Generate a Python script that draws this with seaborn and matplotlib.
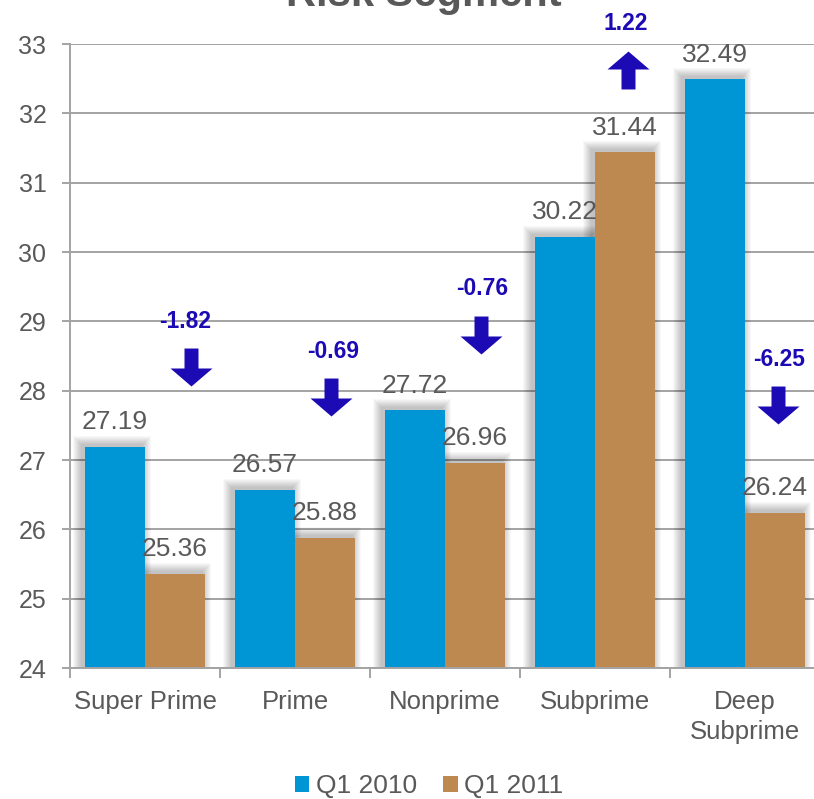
import numpy as np
import pandas as pd
import matplotlib
matplotlib.use("Agg")
import matplotlib.pyplot as plt
from matplotlib.path import Path
from matplotlib.patches import Rectangle, Patch
import seaborn as sns

# ---- data -------------------------------------------------------------
segments = ["Super Prime", "Prime", "Nonprime", "Subprime", "Deep\nSubprime"]
periods = ["Q1 2010", "Q1 2011"]
q1_2010 = [27.19, 26.57, 27.72, 30.22, 32.49]
q1_2011 = [25.36, 25.88, 26.96, 31.44, 26.24]
changes = [-1.82, -0.69, -0.76, 1.22, -6.25]
y_ticks = [24, 25, 26, 27, 28, 29, 30, 31, 32, 33]

# ---- style ------------------------------------------------------------
sns.set_theme(style="white")
plt.rcParams["font.family"] = ["Liberation Sans", "DejaVu Sans"]

BLUE = "#0096D6"
BROWN = "#BD8950"
ARROW = "#1C0AB4"
TEXT = "#595959"
GRID = "#A3A3A3"

df = pd.DataFrame({
    "segment": segments * 2,
    "score": q1_2010 + q1_2011,
    "period": [periods[0]] * len(segments) + [periods[1]] * len(segments),
})

fig = plt.figure(figsize=(8.14, 7.99), dpi=100)
ax = fig.add_axes([70 / 814, 1 - 668 / 799, 1 - 70 / 814, 624 / 799])

sns.barplot(data=df, x="segment", y="score", hue="period",
            palette=[BLUE, BROWN], saturation=1, width=0.8, gap=0,
            linewidth=0, legend=False, ax=ax)

ax.set_xlim(-0.5, 4.46)
ax.set_ylim(24, 33)
ax.set_yticks(y_ticks)
ax.set_xlabel("")
ax.set_ylabel("")

# pixel scale of the data units (for shadows)
px_x = 150.0
px_y = 624.0 / 9.0

# soft drop shadow behind every bar, a little heavier to the upper left
bars = [p for p in ax.patches if isinstance(p, Rectangle) and p.get_height() > 0]
for bar in bars:
    x0, w, top = bar.get_x(), bar.get_width(), bar.get_height()
    for k in range(1, 10):
        ex, ey = k / px_x, k / px_y
        ax.add_patch(Rectangle((x0 - ex - 3 / px_x, 24 - 1),
                               w + 2 * ex, top - 23 + ey + 2 / px_y,
                               facecolor="black", edgecolor="none",
                               alpha=0.028, zorder=0.8))
    bar.set_zorder(2)

# value labels above bars
for bar in bars:
    cx = bar.get_x() + bar.get_width() / 2
    top = bar.get_height()
    ax.annotate(f"{top:.2f}", xy=(cx, top), xytext=(0, 12.5),
                textcoords="offset points", ha="center", va="baseline",
                fontsize=19, color=TEXT, zorder=3, annotation_clip=False)

# change arrows with labels
down = Path([(-7, 19), (7, 19), (7, -1), (21, -1), (0, -19), (-21, -1),
             (-7, -1), (-7, 19)],
            [Path.MOVETO] + [Path.LINETO] * 6 + [Path.CLOSEPOLY])
up = Path(down.vertices * np.array([1, -1]), down.codes)

arrow_x = [0.307, 0.24, 0.24, 0.217, 0.22]
arrow_y = [28.34, 27.91, 28.80, 32.62, 27.79]
label_x = [0.27, 0.253, 0.25, 0.205, 0.227]
label_y = [29.0, 28.57, 29.48, 33.29, 28.45]
for i, d in enumerate(changes):
    ax.plot([i + arrow_x[i]], [arrow_y[i]], marker=up if d > 0 else down,
            ms=30.2, color=ARROW, ls="none", mew=0, zorder=4, clip_on=False)
    ax.text(i + label_x[i], label_y[i], f"{d:.2f}", ha="center", va="center",
            fontsize=16.5, fontweight="bold", color=ARROW, zorder=4,
            clip_on=False)

# grid, spines, ticks
ax.set_axisbelow(True)
ax.yaxis.grid(True, color=GRID, linewidth=1.4)
ax.xaxis.grid(False)
for s in ["top", "right"]:
    ax.spines[s].set_visible(False)
for s in ["left", "bottom"]:
    ax.spines[s].set_color(GRID)
    ax.spines[s].set_linewidth(1.4)

ax.tick_params(axis="y", which="major", length=6, width=1.4, color=GRID,
               labelsize=18, labelcolor=TEXT, pad=11, left=True)
ax.set_xticks(range(len(segments)))
ax.set_xticklabels(segments, linespacing=1.3)
ax.tick_params(axis="x", which="major", length=0, labelsize=18.5,
               labelcolor=TEXT, pad=16)
ax.set_xticks([-0.5, 0.5, 1.5, 2.5, 3.5], minor=True)
ax.tick_params(axis="x", which="minor", length=7, width=1.4, color=GRID,
               bottom=True)

# legend
handles = [Patch(facecolor=BLUE, edgecolor="none"),
           Patch(facecolor=BROWN, edgecolor="none")]
fig.legend(handles, periods, loc="center", bbox_to_anchor=(0.527, 0.016),
           ncol=2, frameon=False, fontsize=19, handlelength=0.55,
           handleheight=0.55, handletextpad=0.25, columnspacing=1.0,
           borderpad=0, labelcolor=TEXT)

# title (only the lower part lies inside the canvas)
fig.text(0.521, 1 - 6 / 799, "Risk Segment", ha="center", va="baseline",
         fontsize=30, fontweight="bold", color=TEXT)

fig.savefig("out.png", dpi=100)
